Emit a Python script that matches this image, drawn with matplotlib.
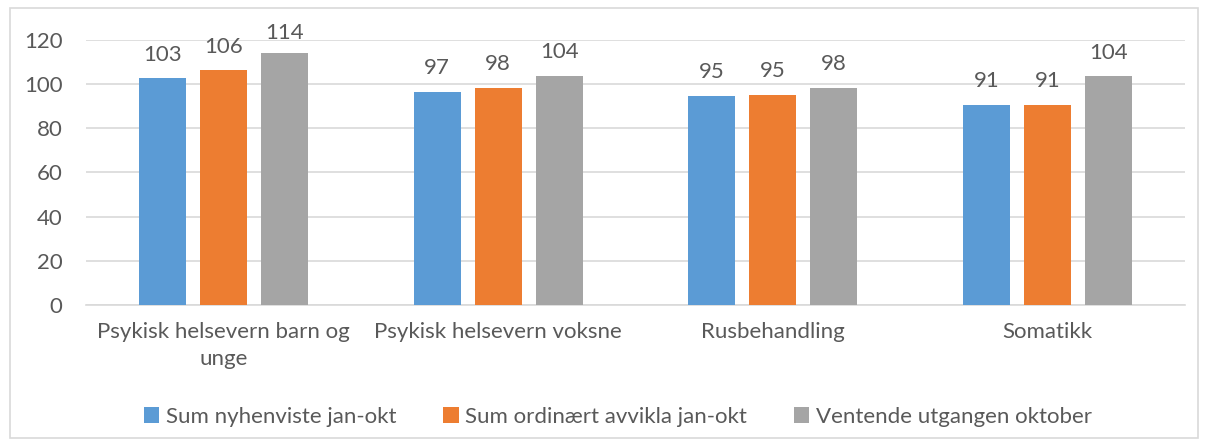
import matplotlib.pyplot as plt
import numpy as np
from matplotlib.patches import FancyBboxPatch

categories = ['Psykisk helsevern barn og\nunge', 'Psykisk helsevern voksne', 'Rusbehandling', 'Somatikk']
series_names = ['Sum nyhenviste jan-okt', 'Sum ordinært avvikla jan-okt', 'Ventende utgangen oktober']
nyhenviste = [102.7, 96.6, 94.6, 90.6]
avvikla = [106.3, 98.2, 95.3, 90.7]
ventende = [114.0, 103.7, 98.2, 103.5]
colors = ['#5B9BD5', '#ED7D31', '#A5A5A5']

plt.rcParams['font.family'] = ['Lato', 'DejaVu Sans']
text_color = '#595959'
fs = 16

fig = plt.figure(figsize=(12.09, 4.46), dpi=100)
ax = fig.add_axes([86 / 1209, 1 - 305 / 446, 1099 / 1209, 265 / 446])

# outer chart border
fig.patches.append(FancyBboxPatch((10 / 1209, 8 / 446), 1188 / 1209, 430 / 446,
                                  boxstyle='square,pad=0', transform=fig.transFigure,
                                  facecolor='none', edgecolor='#D9D9D9', linewidth=1.2))

x = np.arange(len(categories))
width = 0.171
step = 0.222
for i, (vals, name) in enumerate(zip([nyhenviste, avvikla, ventende], series_names)):
    bars = ax.bar(x + (i - 1) * step, vals, width, color=colors[i], label=name, zorder=3)
    for b, v in zip(bars, vals):
        off = 6.2 if v < 110 else 4.5
        ax.text(b.get_x() + b.get_width() / 2, v + off, f'{v:.0f}', ha='center', va='bottom',
                fontsize=fs, color=text_color)

ax.set_xlim(-0.5, 3.5)
ax.set_ylim(0, 120)
ax.set_yticks(range(0, 121, 20))
ax.yaxis.grid(True, color='#D9D9D9', linewidth=1.2, zorder=0)
ax.set_xticks(x)
ax.set_xticklabels(categories, fontsize=fs, color=text_color, va='top', linespacing=1.45)
ax.tick_params(axis='y', labelsize=fs, labelcolor=text_color, length=0, pad=17)
ax.tick_params(axis='x', length=0, pad=12)
for s in ['top', 'right', 'left']:
    ax.spines[s].set_visible(False)
ax.spines['bottom'].set_color('#D9D9D9')
ax.spines['bottom'].set_linewidth(1.2)

fig.legend(loc='center', bbox_to_anchor=(0.511, 1 - 417 / 446), ncol=3, frameon=False,
           fontsize=fs, labelcolor=text_color, handlelength=0.7, handleheight=0.7,
           handletextpad=0.3, columnspacing=2.1)

fig.savefig('out.png', dpi=100)
